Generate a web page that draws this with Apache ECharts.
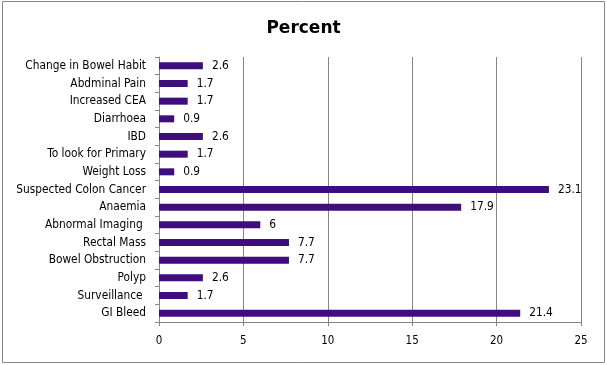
<!DOCTYPE html>
<html><head><meta charset="utf-8">
<script src="https://cdn.jsdelivr.net/npm/echarts@6/dist/echarts.min.js"></script>
<style>html,body{margin:0;padding:0;background:#fff}#c{width:607px;height:365px}</style>
</head><body><div id="c"></div>
<script>
const categories = ["Change in Bowel Habit","Abdminal Pain","Increased CEA","Diarrhoea","IBD","To look for Primary","Weight Loss","Suspected Colon Cancer","Anaemia","Abnormal Imaging ","Rectal Mass","Bowel Obstruction","Polyp","Surveillance ","GI Bleed"];
const percentValues = [2.6,1.7,1.7,0.9,2.6,1.7,0.9,23.1,17.9,6,7.7,7.7,2.6,1.7,21.4];
const xTicks = [0,5,10,15,20,25];

const chart = echarts.init(document.getElementById('c'), null, {renderer:'canvas'});
const font = '"DejaVu Sans Condensed", "DejaVu Sans", sans-serif';
chart.setOption({
  animation:false,
  backgroundColor:'#fff',
  graphic:[{type:'rect',shape:{x:2.5,y:1.5,width:602,height:361},style:{fill:'none',stroke:'#868686',lineWidth:1},silent:true}],
  title:{text:'Percent',left:'center',top:15,textStyle:{fontFamily:'DejaVu Sans',fontWeight:'bold',fontSize:17,color:'#000'}},
  grid:{left:159,right:26,top:57,bottom:43},
  xAxis:{type:'value',min:xTicks[0],max:xTicks[xTicks.length-1],interval:5,
    axisLine:{show:true,lineStyle:{color:'#868686'}},
    axisTick:{show:true,length:4,lineStyle:{color:'#868686'}},
    axisLabel:{margin:13,fontFamily:font,fontSize:11.5,color:'#000'},
    splitLine:{show:true,lineStyle:{color:'#868686',width:1}}},
  yAxis:{type:'category',data:categories,inverse:true,
    axisLine:{show:true,lineStyle:{color:'#868686'}},
    axisTick:{show:true,length:4,lineStyle:{color:'#868686'}},
    axisLabel:{margin:13,fontFamily:font,fontSize:11.8,color:'#000'},
    splitLine:{show:false}},
  series:[{type:'bar',data:percentValues,barWidth:7,
    itemStyle:{color:'#3f0d7e'},
    label:{show:true,position:'right',distance:9,fontFamily:font,fontSize:11.8,color:'#000'}}]
});
</script></body></html>
